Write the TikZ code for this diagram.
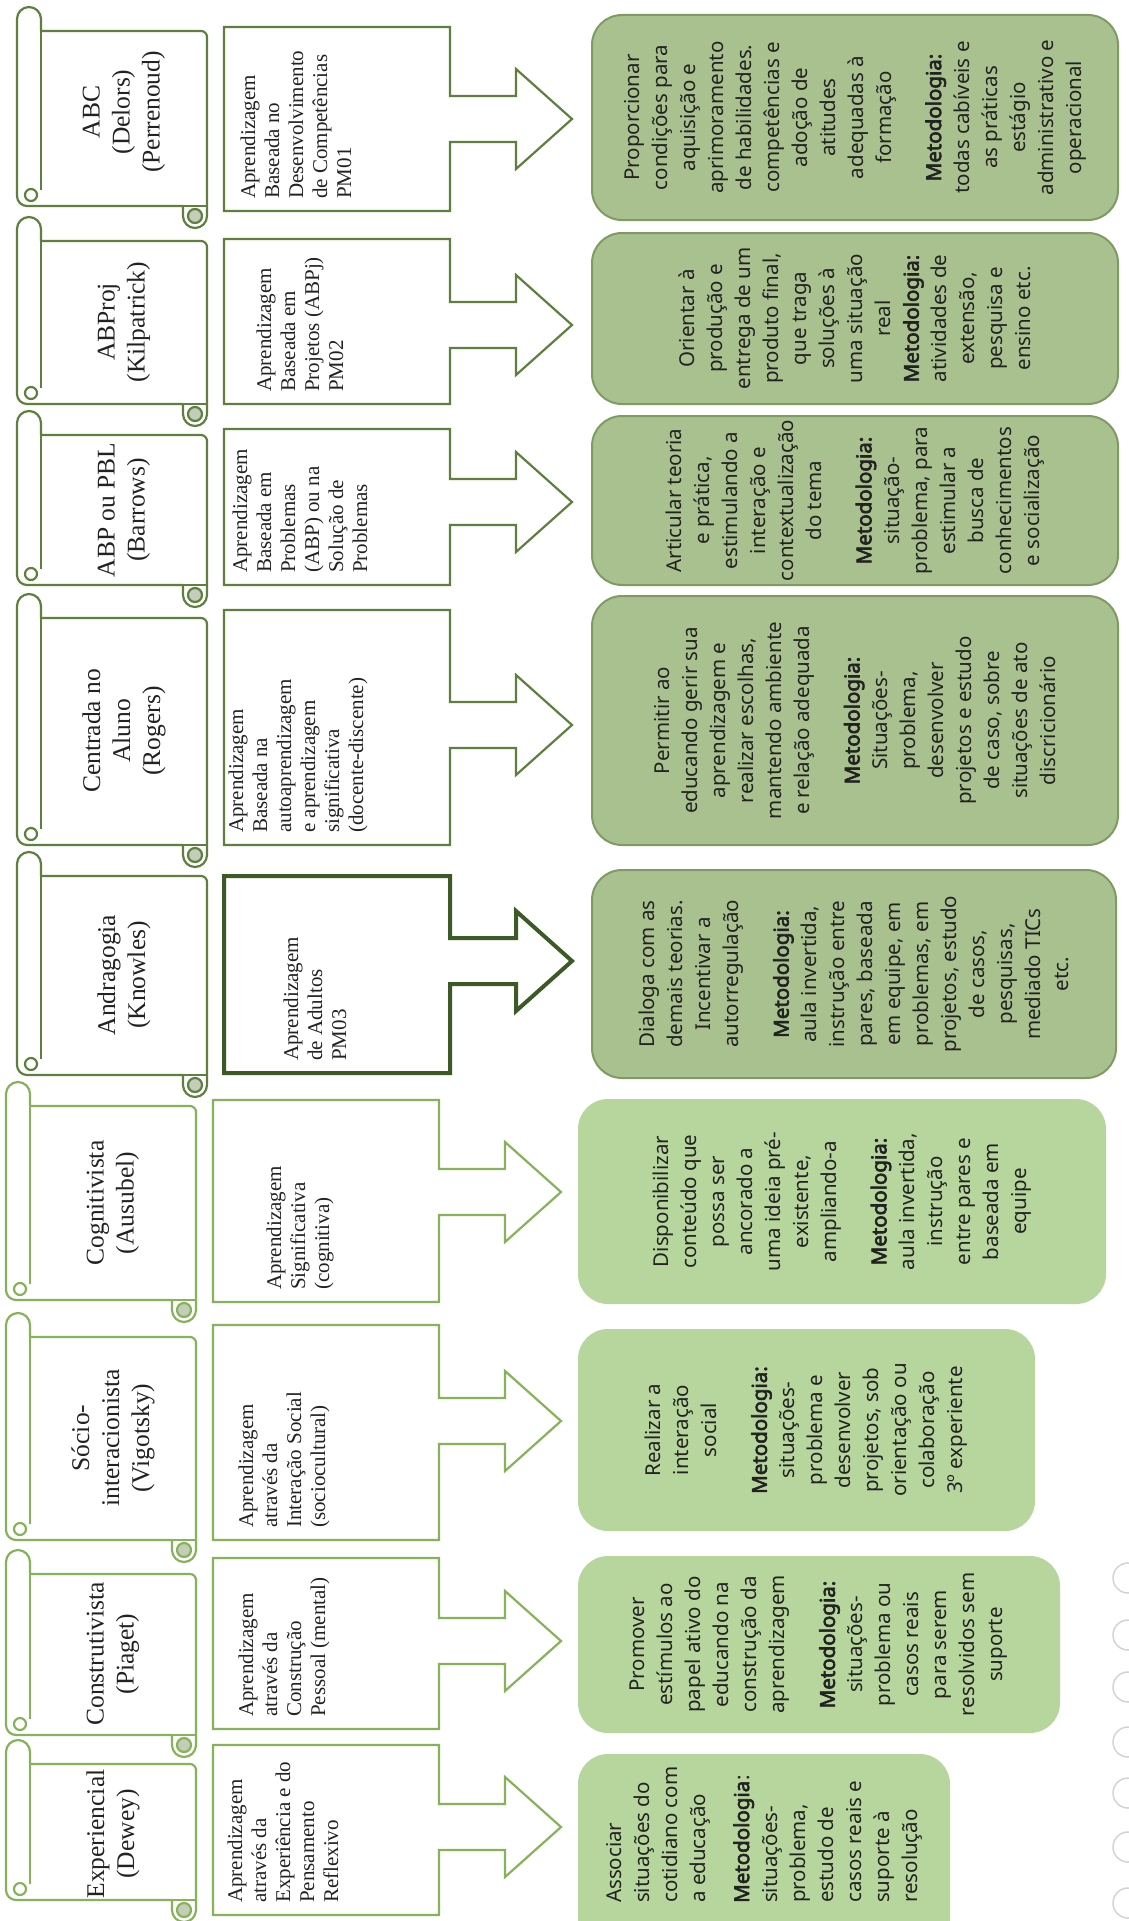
\documentclass[tikz,border=0pt]{standalone}
\usepackage{fontspec}
\setmainfont{Liberation Serif}
\newfontfamily\boxsans{Noto Sans}[AutoFakeBold=3]
\usetikzlibrary{calc}

\definecolor{olvline}{HTML}{5F7F3F}
\definecolor{lgtline}{HTML}{86B35A}
\definecolor{dkline}{HTML}{3B5A25}
\definecolor{gtopfill}{HTML}{A9C18F}
\definecolor{gtopedge}{HTML}{7F9B63}
\definecolor{gbotfill}{HTML}{B7D69D}
\definecolor{curlfill}{HTML}{C4CCBA}
\definecolor{txt}{HTML}{222222}
\definecolor{ccgray}{HTML}{D4D4D4}

\tikzset{
  gtop/.style={draw=gtopedge, line width=2pt, fill=gtopfill, rounded corners=30pt, inner sep=0pt, outer sep=0pt},
  gbot/.style={fill=gbotfill, rounded corners=30pt, inner sep=0pt, outer sep=0pt},
  gtext/.style={rotate=90, align=center, text=txt, inner sep=0pt, font=\boxsans\fontsize{20.5}{28}\selectfont},
  stext/.style={rotate=90, align=center, text=txt, inner sep=0pt, font=\fontsize{25.5}{30}\selectfont},
  rtext/.style={rotate=90, align=left, anchor=west, text=txt, inner sep=0pt, font=\fontsize{21}{24}\selectfont},
  calltop/.style={draw=olvline, line width=2.2pt, line join=miter, fill=white},
  callbot/.style={draw=lgtline, line width=2.2pt, line join=miter, fill=white},
  callbold/.style={draw=dkline, line width=4pt, line join=miter, fill=white},
}

% space between the aim and the method inside a result box
\newcommand\partgap{\\[22pt]}

% scroll: x shift, body top, body bottom, outline colour
\newcommand\scrollshape[4]{%
  \begin{scope}[xshift=#1pt, draw=#4, line width=2.2pt, line join=round]
    \filldraw[fill=white] (41,#2) -- (201,#2) arc[start angle=90, end angle=0, radius=6pt]
      -- (207,{#3+10}) arc[start angle=0, end angle=-180, radius=12pt]
      -- (183,#3) -- (27,#3) arc[start angle=270, end angle=180, radius=10pt]
      -- (17,{#2-12}) arc[start angle=180, end angle=0, radius=12pt] -- cycle;
    \draw (183,#3) -- (207,#3);
    \draw (41,#2) -- (41,{#3-16});
    \draw (31,{#3-11}) circle[radius=6pt];
    \filldraw[fill=curlfill] (195,{#3+10}) circle[radius=7pt];
  \end{scope}}

% text box with its arrow: x shift, top, bottom, arrow axis, style
\newcommand\calloutshape[5]{%
  \draw[#5, xshift=#1pt] (224,#2) -- (450,#2) -- (450,{#4-23}) -- (516,{#4-23})
    -- (516,{#4-50}) -- (572,#4) -- (516,{#4+50}) -- (516,{#4+23})
    -- (450,{#4+23}) -- (450,#3) -- (224,#3) -- cycle;}

% rounded result box: name, left, top, right, bottom, style
\newcommand\greenbox[6]{%
  \node[#6, minimum width={(#4-#2)*1pt}, minimum height={(#5-#3)*1pt}] (#1)
    at ({(#2+#4)/2},{(#3+#5)/2}) {};}

\begin{document}
\begin{tikzpicture}[x=1pt, y=-1pt]
\useasboundingbox (0,0) rectangle (1128,1921);
\fill[white] (0,0) rectangle (1128,1921);

% ---------- ABC ----------
\scrollshape{0}{31}{206}{olvline}
\node[stext] (s1) at (124,112) {ABC\\(Delors)\\(Perrenoud)};
\calloutshape{0}{27}{211}{119}{calltop}
\node[rtext] (r1) at (296,199) {Aprendizagem\\Baseada no\\Desenvolvimento\\de Competências\\PM01};
\greenbox{g1}{592}{15}{1118}{220}{gtop}
\node[gtext] (t1) at (g1) {Proporcionar\\condições para\\aquisição e\\aprimoramento\\de habilidades.\\competências e\\adoção de\\atitudes\\adequadas à\\formação\partgap\textbf{Metodologia:}\\todas cabíveis e\\as práticas\\estágio\\administrativo e\\operacional};

% ---------- ABProj ----------
\scrollshape{0}{241}{404}{olvline}
\node[stext] (s2) at (124,322) {ABProj\\(Kilpatrick)};
\calloutshape{0}{239}{404}{325}{calltop}
\node[rtext] (r2) at (300,392) {Aprendizagem\\Baseada em\\Projetos (ABPj)\\PM02};
\greenbox{g2}{592}{233}{1118}{404}{gtop}
\node[gtext] (t2) at (g2) {Orientar à\\produção e\\entrega de um\\produto final,\\que traga\\soluções à\\uma situação\\real\\\textbf{Metodologia:}\\atividades de\\extensão,\\pesquisa e\\ensino etc.};

% ---------- ABP ou PBL ----------
\scrollshape{0}{435}{585}{olvline}
\node[stext] (s3) at (124,510) {ABP ou PBL\\(Barrows)};
\calloutshape{0}{429}{585}{502}{calltop}
\node[rtext] (r3) at (300,573) {Aprendizagem\\Baseada em\\Problemas\\(ABP) ou na\\Solução de\\Problemas};
\greenbox{g3}{592}{416}{1118}{585}{gtop}
\node[gtext] (t3) at (g3) {Articular teoria\\e prática,\\estimulando a\\interação e\\contextualização\\do tema\partgap\textbf{Metodologia:}\\situação-\\problema, para\\estimular a\\busca de\\conhecimentos\\e socialização};

% ---------- Centrada no Aluno ----------
\scrollshape{0}{618}{845}{olvline}
\node[stext] (s4) at (124,731) {Centrada no\\Aluno\\(Rogers)};
\calloutshape{0}{610}{845}{725}{calltop}
\node[rtext] (r4) at (298,833) {Aprendizagem\\Baseada na\\autoaprendizagem\\e aprendizagem\\significativa\\(docente-discente)};
\greenbox{g4}{592}{596}{1118}{845}{gtop}
\node[gtext] (t4) at (g4) {Permitir ao\\educando gerir sua\\aprendizagem e\\realizar escolhas,\\mantendo ambiente\\e relação adequada\partgap\textbf{Metodologia:}\\Situações-\\problema,\\desenvolver\\projetos e estudo\\de caso, sobre\\situações de ato\\discricionário};

% ---------- Andragogia ----------
\scrollshape{0}{876}{1075}{olvline}
\node[stext] (s5) at (124,975) {Andragogia\\(Knowles)};
\calloutshape{0}{876}{1073}{961}{callbold}
\node[rtext] (r5) at (315,1061) {Aprendizagem\\de Adultos\\PM03};
\greenbox{g5}{592}{870}{1116}{1078}{gtop}
\node[gtext] (t5) at (g5) {Dialoga com as\\demais teorias.\\Incentivar a\\autorregulação\partgap\textbf{Metodologia:}\\aula invertida,\\instrução entre\\pares, baseada\\em equipe, em\\problemas, em\\projetos, estudo\\de casos,\\pesquisas,\\mediado TICs\\etc.};

% ---------- Cognitivista ----------
\scrollshape{-11}{1106}{1300}{lgtline}
\node[stext] (s6) at (113,1203) {Cognitivista\\(Ausubel)};
\calloutshape{-11}{1100}{1302}{1192}{callbot}
\node[rtext] (r6) at (300,1290) {Aprendizagem\\Significativa\\(cognitiva)};
\greenbox{g6}{578}{1099}{1106}{1304}{gbot}
\node[gtext] (t6) at (g6) {Disponibilizar\\conteúdo que\\possa ser\\ancorado a\\uma ideia pré-\\existente,\\ampliando-a\partgap\textbf{Metodologia:}\\aula invertida,\\instrução\\entre pares e\\baseada em\\equipe};

% ---------- Sócio-interacionista ----------
\scrollshape{-11}{1337}{1540}{lgtline}
\node[stext] (s7) at (113,1438) {Sócio-\\interacionista\\(Vigotsky)};
\calloutshape{-11}{1325}{1540}{1421}{callbot}
\node[rtext] (r7) at (284,1528) {Aprendizagem\\através da\\Interação Social\\(sociocultural)};
\greenbox{g7}{578}{1329}{1035}{1531}{gbot}
\node[gtext] (t7) at (g7) {Realizar a\\interação\\social\partgap\textbf{Metodologia:}\\situações-\\problema e\\desenvolver\\projetos, sob\\orientação ou\\colaboração\\3º experiente};

% ---------- Construtivista ----------
\scrollshape{-11}{1574}{1735}{lgtline}
\node[stext] (s8) at (113,1654) {Construtivista\\(Piaget)};
\calloutshape{-11}{1558}{1729}{1641}{callbot}
\node[rtext] (r8) at (284,1717) {Aprendizagem\\através da\\Construção\\Pessoal (mental)};
\greenbox{g8}{578}{1556}{1060}{1733}{gbot}
\node[gtext] (t8) at (g8) {Promover\\estímulos ao\\papel ativo do\\educando na\\construção da\\aprendizagem\partgap\textbf{Metodologia:}\\situações-\\problema ou\\casos reais\\para serem\\resolvidos sem\\suporte};

% ---------- Experiencial ----------
\scrollshape{-11}{1764}{1900}{lgtline}
\node[stext] (s9) at (113,1834) {Experiencial\\(Dewey)};
\calloutshape{-11}{1745}{1915}{1827}{callbot}
\node[rtext] (r9) at (283,1903) {Aprendizagem\\através da\\Experiência e do\\Pensamento\\Reflexivo};
\greenbox{g9}{578}{1754}{950}{1960}{gbot}
\node[gtext, align=left, anchor=west] (t9) at (764,1903) {Associar\\situações do\\cotidiano com\\a educação\\[16pt]\textbf{Metodologia}:\\situações-\\problema,\\estudo de\\casos reais e\\suporte à\\resolução};

% faint licence badges at the lower right edge
\foreach \cy in {1578,1635,1687,1742,1793,1847,1903}
  \draw[ccgray, line width=1.5pt] (1128,\cy) circle[radius=15pt];
\end{tikzpicture}
\end{document}
